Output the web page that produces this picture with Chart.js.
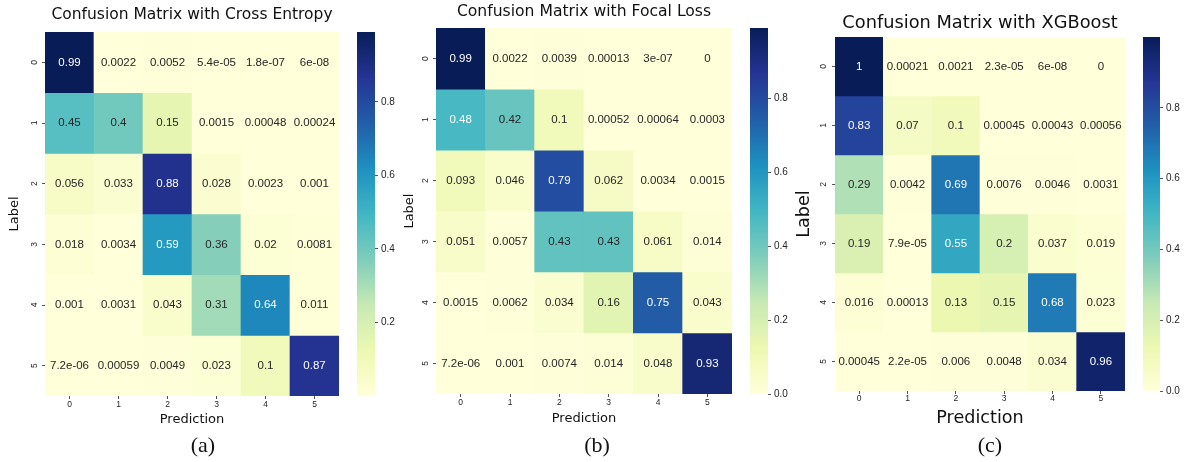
<!DOCTYPE html>
<html><head><meta charset="utf-8">
<script src="https://cdn.jsdelivr.net/npm/chart.js@4.4.1/dist/chart.umd.min.js"></script>
<style>
html,body{margin:0;padding:0;background:#fff;width:1190px;height:462px;overflow:hidden;position:relative}
canvas{position:absolute;top:0}
.cap{position:absolute;font-family:"Liberation Serif","DejaVu Serif",serif;font-size:22px;color:#111;text-align:center;width:100px;line-height:24px}
</style></head><body>
<canvas id="hmA" width="339" height="462" style="left:0px"></canvas>
<canvas id="cbA" width="48" height="462" style="left:357px"></canvas>
<canvas id="hmB" width="337" height="462" style="left:395px"></canvas>
<canvas id="cbB" width="48" height="462" style="left:750px"></canvas>
<canvas id="hmC" width="335" height="462" style="left:790px"></canvas>
<canvas id="cbC" width="47" height="462" style="left:1143px"></canvas>
<div class="cap" style="left:153px;top:433px">(a)</div>
<div class="cap" style="left:547px;top:433px">(b)</div>
<div class="cap" style="left:940px;top:433px">(c)</div>
<script>
// ---------------- data ----------------
const rowLabels = ['0','1','2','3','4','5'];
const colLabels = ['0','1','2','3','4','5'];
const crossEntropy = [
  [0.99, 0.0022, 0.0052, 5.4e-05, 1.8e-07, 6e-08],
  [0.45, 0.4, 0.15, 0.0015, 0.00048, 0.00024],
  [0.056, 0.033, 0.88, 0.028, 0.0023, 0.001],
  [0.018, 0.0034, 0.59, 0.36, 0.02, 0.0081],
  [0.001, 0.0031, 0.043, 0.31, 0.64, 0.011],
  [7.2e-06, 0.00059, 0.0049, 0.023, 0.1, 0.87]
];
const focalLoss = [
  [0.99, 0.0022, 0.0039, 0.00013, 3e-07, 0],
  [0.48, 0.42, 0.1, 0.00052, 0.00064, 0.0003],
  [0.093, 0.046, 0.79, 0.062, 0.0034, 0.0015],
  [0.051, 0.0057, 0.43, 0.43, 0.061, 0.014],
  [0.0015, 0.0062, 0.034, 0.16, 0.75, 0.043],
  [7.2e-06, 0.001, 0.0074, 0.014, 0.048, 0.93]
];
const xgboost = [
  [1, 0.00021, 0.0021, 2.3e-05, 6e-08, 0],
  [0.83, 0.07, 0.1, 0.00045, 0.00043, 0.00056],
  [0.29, 0.0042, 0.69, 0.0076, 0.0046, 0.0031],
  [0.19, 7.9e-05, 0.55, 0.2, 0.037, 0.019],
  [0.016, 0.00013, 0.13, 0.15, 0.68, 0.023],
  [0.00045, 2.2e-05, 0.006, 0.0048, 0.034, 0.96]
];
const cbTickValues = [0, 0.2, 0.4, 0.6, 0.8];
const cbTickLabels = ['0.0', '0.2', '0.4', '0.6', '0.8'];
const titles = ['Confusion Matrix with Cross Entropy', 'Confusion Matrix with Focal Loss', 'Confusion Matrix with XGBoost'];
const xTitle = 'Prediction';
const yTitle = 'Label';

// ---------------- colormap (YlGnBu) ----------------
const YLGNBU = [[255,255,217],[237,248,177],[199,233,180],[127,205,187],[65,182,196],[29,145,192],[34,94,168],[37,52,148],[8,29,88]];
function cmap(t) {
  t = Math.max(0, Math.min(1, t));
  const idx = Math.min(255, Math.floor(t * 256));
  const p = idx / 255 * 8;
  const k = Math.min(7, Math.floor(p));
  const f = p - k;
  return YLGNBU[k].map((c, m) => c + (YLGNBU[k + 1][m] - c) * f);
}
const rgbStr = c => 'rgb(' + c.map(v => Math.round(v)).join(',') + ')';
function lum(c) {
  const l = c.map(v => { v = v / 255; return v <= 0.03928 ? v / 12.92 : Math.pow((v + 0.055) / 1.055, 2.4); });
  return 0.2126 * l[0] + 0.7152 * l[1] + 0.0722 * l[2];
}
function fmt2g(v) {
  if (v === 0) return '0';
  let e = Math.floor(Math.log10(Math.abs(v)));
  let m = v / Math.pow(10, e);
  if (Math.abs(+m.toFixed(1)) >= 10) { e += 1; m = v / Math.pow(10, e); }
  if (e < -4 || e >= 2) {
    let ms = m.toFixed(1).replace(/\.?0+$/, '');
    const es = (e < 0 ? '-' : '+') + String(Math.abs(e)).padStart(2, '0');
    return ms + 'e' + es;
  }
  let s = v.toPrecision(2);
  if (s.indexOf('.') >= 0) s = s.replace(/0+$/, '').replace(/\.$/, '');
  return s;
}

const SANS = '"Liberation Sans", Arial, sans-serif';
const DEJAVU = '"DejaVu Sans", sans-serif';
const TXT = '#262626';

const cellTextPlugin = {
  id: 'cellText',
  afterDatasetsDraw(chart, args, opts) {
    const {ctx, scales: {x, y}} = chart;
    ctx.save();
    ctx.font = '11.5px ' + SANS;
    ctx.textAlign = 'center';
    ctx.textBaseline = 'middle';
    opts.values.forEach((row, i) => {
      row.forEach((v, j) => {
        const c = cmap((v - opts.vmin) / (opts.vmax - opts.vmin));
        ctx.fillStyle = lum(c) > 0.408 ? TXT : '#ffffff';
        ctx.fillText(fmt2g(v), x.getPixelForValue(j), y.getPixelForValue(i + 0.5));
      });
    });
    ctx.restore();
  }
};

function heatmapConfig(values, title, L) {
  const flat = values.flat();
  const vmin = Math.min(...flat), vmax = Math.max(...flat);
  return {
    type: 'bar',
    data: {
      labels: colLabels,
      datasets: values.map((row, i) => ({
        data: row.map(() => [i, i + 1]),
        backgroundColor: row.map(v => rgbStr(cmap((v - vmin) / (vmax - vmin)))),
        borderWidth: 0, barPercentage: 1, categoryPercentage: 1, grouped: false
      }))
    },
    options: {
      responsive: false, animation: false, devicePixelRatio: 1,
      layout: {padding: {left: 0, right: 0, top: 0, bottom: L.padBottom}},
      scales: {
        x: {
          type: 'category',
          grid: {display: true, drawOnChartArea: false, drawTicks: true, tickLength: 3, color: '#555', offset: false},
          border: {display: false},
          ticks: {font: {family: SANS, size: 8.5}, color: TXT, padding: L.xTickPad, maxRotation: 0},
          title: {display: true, text: xTitle, font: {family: DEJAVU, size: L.axTitleSize}, color: '#111', padding: {top: 0, bottom: 0}},
          afterFit: s => { s.height = L.xAxisH; }
        },
        y: {
          type: 'linear', min: 0, max: 6, reverse: true,
          afterBuildTicks: s => { s.ticks = rowLabels.map((_, i) => ({value: i + 0.5})); },
          ticks: {callback: (v, i) => rowLabels[i], minRotation: 90, maxRotation: 90, crossAlign: 'center',
                  padding: L.yTickPad, font: {family: SANS, size: 8.5}, color: TXT},
          grid: {display: true, drawOnChartArea: false, drawTicks: true, tickLength: 3, color: '#555'},
          border: {display: false},
          title: {display: true, text: yTitle, font: {family: DEJAVU, size: L.axTitleSize}, color: '#111', padding: {top: L.yTitlePad, bottom: 0}},
          afterFit: s => { s.width = L.yAxisW; }
        }
      },
      plugins: {
        legend: {display: false},
        tooltip: {enabled: false},
        title: {display: true, text: title, fullSize: false, color: '#111',
                font: {family: DEJAVU, size: L.titleSize, weight: 'normal'},
                padding: {top: L.titlePadTop, bottom: L.titlePadBottom}},
        cellText: {values: values, vmin: vmin, vmax: vmax}
      }
    },
    plugins: [cellTextPlugin]
  };
}

function colorbarConfig(values, L) {
  const flat = values.flat();
  const vmin = Math.min(...flat), vmax = Math.max(...flat);
  return {
    type: 'bar',
    data: {
      labels: [''],
      datasets: [{
        data: [[vmin, vmax]],
        backgroundColor: (c) => {
          const ch = c.chart, a = ch.chartArea;
          if (!a) return 'rgba(0,0,0,0)';
          const g = ch.ctx.createLinearGradient(0, a.bottom, 0, a.top);
          YLGNBU.forEach((col, k) => g.addColorStop(k / 8, rgbStr(col)));
          return g;
        },
        borderWidth: 0, barPercentage: 1, categoryPercentage: 1
      }]
    },
    options: {
      responsive: false, animation: false, devicePixelRatio: 1,
      layout: {padding: {left: 0, right: 0, top: L.top, bottom: 462 - L.bottom}},
      scales: {
        x: {display: false},
        y: {
          position: 'right', min: vmin, max: vmax,
          afterBuildTicks: s => { s.ticks = cbTickValues.filter(v => v >= vmin && v <= vmax).map(v => ({value: v})); },
          ticks: {callback: v => cbTickLabels[cbTickValues.findIndex(t => Math.abs(t - v) < 1e-9)],
                  font: {family: SANS, size: 10}, color: TXT, padding: 3},
          grid: {display: true, drawOnChartArea: false, drawTicks: true, tickLength: 3, color: '#555'},
          border: {display: false},
          afterFit: s => { s.width = 30; }
        }
      },
      plugins: {legend: {display: false}, tooltip: {enabled: false}}
    }
  };
}

const LA = {yAxisW: 45, titleSize: 15.5, titlePadTop: 5.7, titlePadBottom: 7.7, axTitleSize: 13, yTitlePad: 7.2, yTickPad: 5, xTickPad: 1, xAxisH: 31, padBottom: 35};
const LB = {yAxisW: 41, titleSize: 15.6, titlePadTop: 2.7, titlePadBottom: 6.7, axTitleSize: 13, yTitlePad: 7.2, yTickPad: 5, xTickPad: 1, xAxisH: 32.8, padBottom: 35.2};
const LC = {yAxisW: 45, titleSize: 17.8, titlePadTop: 12.3, titlePadBottom: 3.3, axTitleSize: 17.6, yTitlePad: 3.4, yTickPad: 5.5, xTickPad: 0, xAxisH: 37.6, padBottom: 33.4};

new Chart(document.getElementById('hmA'), heatmapConfig(crossEntropy, titles[0], LA));
new Chart(document.getElementById('hmB'), heatmapConfig(focalLoss, titles[1], LB));
new Chart(document.getElementById('hmC'), heatmapConfig(xgboost, titles[2], LC));
new Chart(document.getElementById('cbA'), colorbarConfig(crossEntropy, {top: 32, bottom: 396}));
new Chart(document.getElementById('cbB'), colorbarConfig(focalLoss, {top: 28, bottom: 394}));
new Chart(document.getElementById('cbC'), colorbarConfig(xgboost, {top: 37, bottom: 391}));
</script>
</body></html>
